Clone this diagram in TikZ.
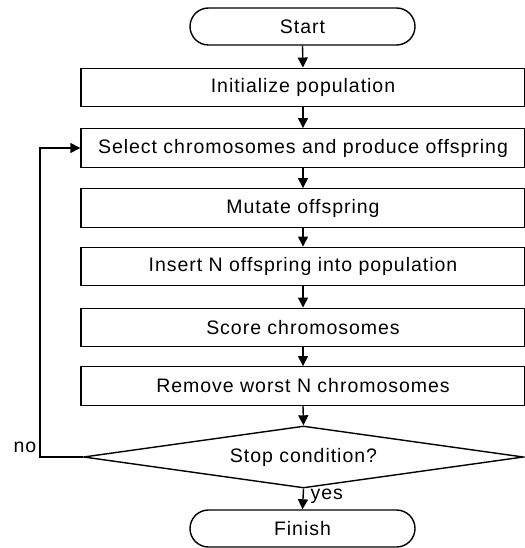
\documentclass[tikz,border=0pt]{standalone}
\usepackage{fontspec}
\setmainfont{Liberation Sans}[LetterSpace=5]
\usetikzlibrary{arrows.meta,shapes.misc,shapes.geometric}
\begin{document}
\begin{tikzpicture}[x=1pt,y=-1pt,
  line width=1.4pt,
  font=\fontsize{19.5}{23}\selectfont,
  stepbox/.style={draw,rectangle,minimum width=444pt,minimum height=38.5pt,inner sep=0pt},
  term/.style={draw,rounded rectangle,minimum width=225pt,minimum height=37pt,inner sep=0pt},
  decision/.style={draw,diamond,aspect=7.05,minimum width=440pt,minimum height=62pt,inner sep=0pt},
  arr/.style={-{Triangle[width=10pt,length=10pt]},line width=1.4pt},
  lbl/.style={inner sep=0pt}]
\useasboundingbox (0,0) rectangle (524,548);
\node[term] (start) at (302.5,26.5) {Start};
\node[stepbox] (init) at (303,87.5) {Initialize population};
\node[stepbox] (sel) at (303,148) {Select chromosomes and produce offspring};
\node[stepbox] (mut) at (303,208) {Mutate offspring};
\node[stepbox] (ins) at (303,266.5) {Insert N offspring into population};
\node[stepbox] (score) at (303,327.5) {Score chromosomes};
\node[stepbox] (rem) at (303,386) {Remove worst N chromosomes};
\node[decision] (stop) at (303.5,457) {Stop condition?};
\node[term] (fin) at (302.5,528.5) {Finish};
\coordinate (lp) at (40,457);
\coordinate (lq) at (40,148);
\draw[arr] (start.south) -- (init.north);
\draw[arr] (init.south) -- (sel.north);
\draw[arr] (sel.south) -- (mut.north);
\draw[arr] (mut.south) -- (ins.north);
\draw[arr] (ins.south) -- (score.north);
\draw[arr] (score.south) -- (rem.north);
\draw[arr] (rem.south) -- (stop.north);
\draw[arr] (stop.south) -- (fin.north);
\draw[arr] (stop.west) -- (lp) -- (lq) -- (sel.west);
\node[lbl,anchor=east] (no) at (37,447) {no};
\node[lbl,anchor=west] (yes) at (310,496) {yes};
\end{tikzpicture}
\end{document}
